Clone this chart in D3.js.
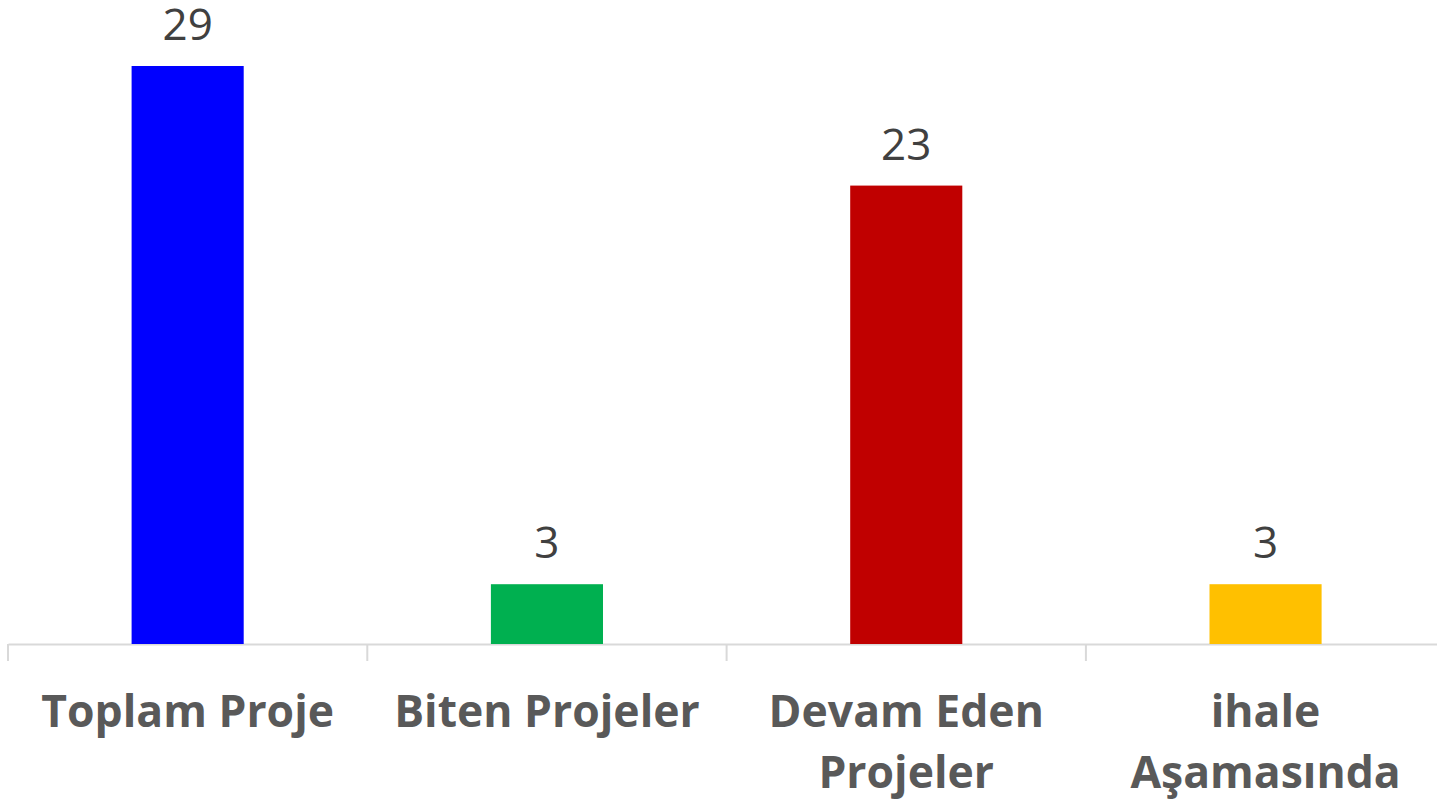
<!DOCTYPE html>
<html>
<head>
<meta charset="utf-8">
<script src="https://cdn.jsdelivr.net/npm/d3@7"></script>
<style>
  html, body { margin: 0; padding: 0; background: #fff; overflow: hidden; }
  svg { display: block; }
</style>
</head>
<body>
<svg id="chart" width="1437" height="806"></svg>
<script>
const categories = ["Toplam Proje", "Biten Projeler", "Devam Eden Projeler", "ihale Aşamasında"];
const labelLines = [["Toplam Proje"], ["Biten Projeler"], ["Devam Eden", "Projeler"], ["ihale", "Aşamasında"]];
const values = [29, 3, 23, 3];
const colors = ["#0000FF", "#00B050", "#C00000", "#FFC000"];

const svg = d3.select("#chart");
const baseY = 644;

const x = d3.scaleBand().domain(categories).range([8, 1445.2]).padding(0);
const y = d3.scaleLinear().domain([0, 29]).range([baseY, 66]);
const barW = x.bandwidth() * 0.312;

// axis line and ticks
const axis = d3.axisBottom(x).tickSize(0).tickFormat("");
const gAxis = svg.append("g").attr("transform", `translate(0,${baseY})`).call(axis);
gAxis.select(".domain").attr("stroke", "#d9d9d9").attr("stroke-width", 2);
const tickXs = categories.map(c => x(c)).concat([x.range()[1]]);
svg.append("g").selectAll("line").data(tickXs).join("line")
  .attr("x1", d => d).attr("x2", d => d)
  .attr("y1", baseY).attr("y2", baseY + 17)
  .attr("stroke", "#d9d9d9").attr("stroke-width", 2);

// bars
svg.append("g").selectAll("rect").data(categories).join("rect")
  .attr("x", d => x(d) + x.bandwidth() / 2 - barW / 2)
  .attr("width", barW)
  .attr("y", (d, i) => y(values[i]))
  .attr("height", (d, i) => baseY - y(values[i]))
  .attr("fill", (d, i) => colors[i]);

// value labels
svg.append("g").selectAll("text").data(categories).join("text")
  .attr("x", d => x(d) + x.bandwidth() / 2)
  .attr("y", (d, i) => y(values[i]) - 26)
  .attr("text-anchor", "middle")
  .attr("font-family", "'Open Sans', sans-serif")
  .attr("font-size", 44)
  .attr("fill", "#404040")
  .text((d, i) => values[i]);

// category labels
const cat = svg.append("g").selectAll("text").data(categories).join("text")
  .attr("x", d => x(d) + x.bandwidth() / 2)
  .attr("y", 727)
  .attr("text-anchor", "middle")
  .attr("font-family", "'Open Sans', sans-serif")
  .attr("font-weight", "bold")
  .attr("font-size", 44.5)
  .attr("fill", "#595959");
cat.each(function(d, i) {
  const t = d3.select(this);
  labelLines[i].forEach((ln, j) => {
    t.append("tspan").attr("x", x(d) + x.bandwidth() / 2).attr("dy", j === 0 ? 0 : 61).text(ln);
  });
});
</script>
</body>
</html>
